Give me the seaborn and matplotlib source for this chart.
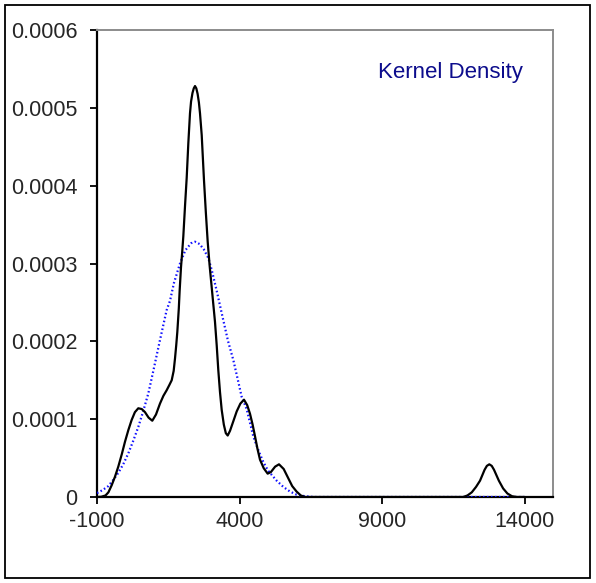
import matplotlib
matplotlib.use("Agg")
import matplotlib.pyplot as plt
import seaborn as sns
import pandas as pd
from matplotlib.patches import Rectangle

# ---- data ----
kde_x = [-1000, -850, -700, -600, -486, -370, -253, -130, -18, 100, 216, 330, 449, 570,
         684, 810, 940, 1070, 1210, 1330, 1442, 1540, 1621, 1690, 1737, 1780, 1818, 1870,
         1900, 1947, 1990, 2029, 2090, 2147, 2205, 2263, 2300, 2350, 2395, 2439, 2485,
         2530, 2575, 2614, 2674,
         2754, 2820, 2884, 2950, 3018, 3080, 3140, 3200, 3256, 3315, 3375, 3450, 3520,
         3586, 3667, 3780, 3902, 4030, 4158, 4270, 4368, 4460, 4544, 4630, 4719, 4850,
         4988, 5100, 5250, 5386, 5550, 5713, 5850, 6003, 6150, 6298, 8000, 10000, 11850,
         12000, 12150, 12300, 12440, 12600, 12680, 12765, 12850, 12930, 13100, 13250,
         13400, 13560, 13730, 14000]
kde_y = [0, 0.003, 0.02, 0.06, 0.15, 0.26, 0.39, 0.55, 0.71, 0.86, 0.99, 1.09, 1.14, 1.13,
         1.09, 1.02, 0.98, 1.06, 1.20, 1.30, 1.37, 1.44, 1.50, 1.62, 1.78, 1.95, 2.12, 2.42,
         2.65, 2.95, 3.15, 3.35, 3.75, 4.10, 4.55, 4.93, 5.08, 5.19, 5.25, 5.28, 5.25,
         5.18, 5.07, 4.93, 4.65,
         4.07, 3.65, 3.28, 2.98, 2.72, 2.48, 2.25, 1.95, 1.63, 1.35, 1.12, 0.93, 0.82,
         0.79, 0.85, 0.97, 1.10, 1.20, 1.25, 1.18, 1.07, 0.93, 0.78, 0.62, 0.48, 0.37,
         0.30, 0.32, 0.39, 0.42, 0.36, 0.24, 0.14, 0.07, 0.02, 0, 0, 0, 0,
         0.02, 0.06, 0.13, 0.21, 0.35, 0.40, 0.42, 0.40, 0.35, 0.21, 0.11,
         0.045, 0.01, 0, 0]
norm_x = [-1000, -800, -604, -428, -253, -80, 98, 270, 449, 620, 800, 976, 1200, 1443,
          1561, 1700, 1912, 2100, 2300, 2439, 2600, 2750, 2906, 3023, 3200, 3432, 3600,
          3783, 3958, 4074, 4251, 4344, 4484, 4600, 4719, 4835, 5000, 5186, 5304, 5537,
          5772, 6003, 6300, 6600, 10000, 14000]
norm_y = [0.05, 0.09, 0.14, 0.22, 0.31, 0.42, 0.56, 0.72, 0.90, 1.10, 1.33, 1.62, 2.00, 2.40,
          2.52, 2.75, 3.00, 3.17, 3.26, 3.28, 3.25, 3.18, 3.07, 2.92, 2.65, 2.27, 2.00,
          1.76, 1.48, 1.29, 1.13, 0.99, 0.78, 0.66, 0.55, 0.45, 0.34, 0.26, 0.21, 0.13,
          0.07, 0.03, 0.01, 0, 0, 0]
y_scale = 1e-4
x_ticks = [-1000, 4000, 9000, 14000]
x_tick_labels = ["-1000", "4000", "9000", "14000"]
y_ticks = [0, 0.0001, 0.0002, 0.0003, 0.0004, 0.0005, 0.0006]
y_tick_labels = ["0", "0.0001", "0.0002", "0.0003", "0.0004", "0.0005", "0.0006"]
label_text = "Kernel Density"

sns.set_style("white")
plt.rcParams['font.family'] = ['Liberation Sans', 'DejaVu Sans']

W, H = 596, 583
fig = plt.figure(figsize=(W / 100, H / 100), dpi=100)
fig.patch.set_facecolor("white")
ax = fig.add_axes([97 / W, 1 - 497 / H, 456 / W, 467 / H])

df_kde = pd.DataFrame({"x": kde_x, "y": [v * y_scale for v in kde_y]})
df_norm = pd.DataFrame({"x": norm_x, "y": [v * y_scale for v in norm_y]})

sns.lineplot(data=df_norm, x="x", y="y", ax=ax, sort=False, color="#1010ff",
             linewidth=1.6, linestyle=(0, (0.7, 1.1)), zorder=3)
sns.lineplot(data=df_kde, x="x", y="y", ax=ax, sort=False, color="black",
             linewidth=1.6, zorder=4)

ax.set_xlim(-1000, 15000)
ax.set_ylim(0, 0.0006)
ax.set_xticks(x_ticks)
ax.set_xticklabels(x_tick_labels)
ax.set_yticks(y_ticks)
ax.set_yticklabels(y_tick_labels)
ax.set_xlabel("")
ax.set_ylabel("")

for side in ["left", "bottom"]:
    ax.spines[side].set_color("black")
    ax.spines[side].set_linewidth(1.6)
    ax.spines[side].set_zorder(1)
for side in ["top", "right"]:
    ax.spines[side].set_color("#8c8c8c")
    ax.spines[side].set_linewidth(1.4)
    ax.spines[side].set_zorder(1)

ax.tick_params(axis="x", direction="out", length=5, width=1.3, color="black",
               labelsize=15.5, pad=5, bottom=True)
ax.tick_params(axis="y", direction="out", length=5, width=1.3, color="black",
               labelsize=15.5, pad=9, left=True)

ax.text(0.774, 0.910, label_text, transform=ax.transAxes, color="#0c0c8c",
        fontsize=16, ha="center", va="center")

fig.patches.append(Rectangle((5 / W, 1 - 578 / H), 585 / W, 573 / H,
                             transform=fig.transFigure, fill=False,
                             edgecolor="black", linewidth=1.3))

fig.savefig("out.png", dpi=100)
